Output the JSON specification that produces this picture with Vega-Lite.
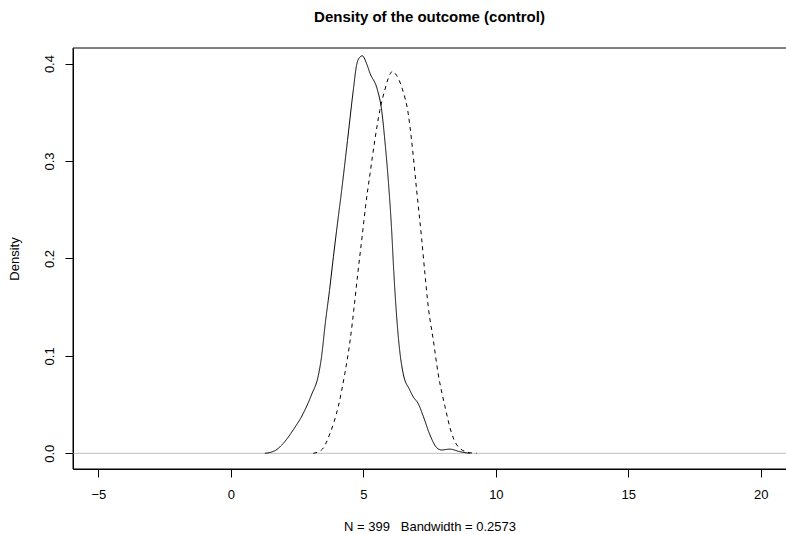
{
  "$schema": "https://vega.github.io/schema/vega-lite/v6.json",
  "width": 713,
  "height": 421,
  "autosize": {"type": "none"},
  "padding": {"left": 73, "top": 48, "right": 0, "bottom": 65},
  "background": "white",
  "title": {"text": "Density of the outcome (control)", "fontSize": 15, "font": "Liberation Sans", "fontWeight": "bold", "anchor": "middle", "offset": 23, "color": "black"},
  "config": {
    "view": {"stroke": null},
    "font": "Liberation Sans",
    "axis": {"grid": false, "domain": true, "domainColor": "black", "tickColor": "black", "labelColor": "black", "titleColor": "black", "labelFont": "Liberation Sans", "titleFont": "Liberation Sans", "labelFontSize": 13, "titleFontSize": 13, "titleFontWeight": "normal", "tickSize": 8, "domainWidth": 1, "tickWidth": 1}
  },
  "datasets": {
    "dens": [
      {"group": "control", "x": 1.28, "y": 0},
      {"group": "control", "x": 1.66, "y": 0.0027},
      {"group": "control", "x": 1.97, "y": 0.010},
      {"group": "control", "x": 2.35, "y": 0.024},
      {"group": "control", "x": 2.73, "y": 0.041},
      {"group": "control", "x": 3.04, "y": 0.060},
      {"group": "control", "x": 3.30, "y": 0.080},
      {"group": "control", "x": 3.42, "y": 0.099},
      {"group": "control", "x": 3.56, "y": 0.133},
      {"group": "control", "x": 3.72, "y": 0.167},
      {"group": "control", "x": 3.87, "y": 0.202},
      {"group": "control", "x": 3.99, "y": 0.229},
      {"group": "control", "x": 4.18, "y": 0.270},
      {"group": "control", "x": 4.40, "y": 0.321},
      {"group": "control", "x": 4.62, "y": 0.373},
      {"group": "control", "x": 4.74, "y": 0.398},
      {"group": "control", "x": 4.85, "y": 0.406},
      {"group": "control", "x": 4.96, "y": 0.408},
      {"group": "control", "x": 5.12, "y": 0.400},
      {"group": "control", "x": 5.25, "y": 0.390},
      {"group": "control", "x": 5.53, "y": 0.373},
      {"group": "control", "x": 5.69, "y": 0.352},
      {"group": "control", "x": 5.81, "y": 0.321},
      {"group": "control", "x": 5.94, "y": 0.280},
      {"group": "control", "x": 6.06, "y": 0.232},
      {"group": "control", "x": 6.15, "y": 0.185},
      {"group": "control", "x": 6.23, "y": 0.150},
      {"group": "control", "x": 6.33, "y": 0.116},
      {"group": "control", "x": 6.50, "y": 0.082},
      {"group": "control", "x": 6.75, "y": 0.065},
      {"group": "control", "x": 6.88, "y": 0.058},
      {"group": "control", "x": 7.07, "y": 0.051},
      {"group": "control", "x": 7.26, "y": 0.038},
      {"group": "control", "x": 7.51, "y": 0.019},
      {"group": "control", "x": 7.76, "y": 0.006},
      {"group": "control", "x": 7.95, "y": 0.0034},
      {"group": "control", "x": 8.26, "y": 0.0043},
      {"group": "control", "x": 8.64, "y": 0.0017},
      {"group": "control", "x": 9.02, "y": 0},
      {"group": "treated", "x": 3.11, "y": 0},
      {"group": "treated", "x": 3.42, "y": 0.0034},
      {"group": "treated", "x": 3.74, "y": 0.0205},
      {"group": "treated", "x": 4.05, "y": 0.048},
      {"group": "treated", "x": 4.30, "y": 0.082},
      {"group": "treated", "x": 4.50, "y": 0.116},
      {"group": "treated", "x": 4.65, "y": 0.150},
      {"group": "treated", "x": 4.79, "y": 0.185},
      {"group": "treated", "x": 4.95, "y": 0.222},
      {"group": "treated", "x": 5.08, "y": 0.253},
      {"group": "treated", "x": 5.25, "y": 0.287},
      {"group": "treated", "x": 5.43, "y": 0.321},
      {"group": "treated", "x": 5.62, "y": 0.352},
      {"group": "treated", "x": 5.81, "y": 0.373},
      {"group": "treated", "x": 6.00, "y": 0.389},
      {"group": "treated", "x": 6.10, "y": 0.392},
      {"group": "treated", "x": 6.25, "y": 0.388},
      {"group": "treated", "x": 6.48, "y": 0.373},
      {"group": "treated", "x": 6.69, "y": 0.349},
      {"group": "treated", "x": 6.82, "y": 0.321},
      {"group": "treated", "x": 7.01, "y": 0.270},
      {"group": "treated", "x": 7.20, "y": 0.220},
      {"group": "treated", "x": 7.32, "y": 0.185},
      {"group": "treated", "x": 7.45, "y": 0.150},
      {"group": "treated", "x": 7.64, "y": 0.116},
      {"group": "treated", "x": 7.82, "y": 0.082},
      {"group": "treated", "x": 8.08, "y": 0.048},
      {"group": "treated", "x": 8.33, "y": 0.0205},
      {"group": "treated", "x": 8.64, "y": 0.005},
      {"group": "treated", "x": 9.02, "y": 0.0006},
      {"group": "treated", "x": 9.27, "y": 0}
    ],
    "one": [{"ref": 0}]
  },
  "layer": [
    {
      "data": {"name": "one"},
      "mark": {"type": "rule", "color": "#BEBEBE", "strokeWidth": 1},
      "encoding": {"y": {"datum": 0}}
    },
    {
      "data": {"name": "one"},
      "mark": {"type": "rule", "color": "black", "strokeWidth": 1},
      "encoding": {"y": {"datum": 0.416}}
    },
    {
      "data": {"name": "one"},
      "mark": {"type": "rule", "color": "black", "strokeWidth": 1},
      "encoding": {"y": {"datum": -0.0161}}
    },
    {
      "data": {"name": "one"},
      "mark": {"type": "rule", "color": "black", "strokeWidth": 1},
      "encoding": {"x": {"datum": -5.96}}
    },
    {
      "data": {"name": "dens"},
      "mark": {"type": "line", "interpolate": "monotone", "color": "black", "strokeWidth": 1, "clip": true},
      "encoding": {
        "x": {"field": "x", "type": "quantitative", "scale": {"domain": [-5.96, 20.95], "nice": false, "zero": false},
              "axis": {"values": [-5, 0, 5, 10, 15, 20], "title": "N = 399\u00a0\u00a0\u00a0Bandwidth = 0.2573", "labelPadding": 11, "titlePadding": 19, "labelFlush": false}},
        "y": {"field": "y", "type": "quantitative", "scale": {"domain": [-0.0161, 0.416], "nice": false, "zero": false},
              "axis": {"values": [0, 0.1, 0.2, 0.3, 0.4], "format": ".1f", "title": "Density", "labelAngle": -90, "labelAlign": "center", "labelBaseline": "bottom", "labelPadding": 9, "titlePadding": 22}},
        "strokeDash": {"field": "group", "type": "nominal", "scale": {"domain": ["control", "treated"], "range": [[1, 0], [4, 4]]}, "legend": null},
        "detail": {"field": "group"}
      }
    }
  ]
}
